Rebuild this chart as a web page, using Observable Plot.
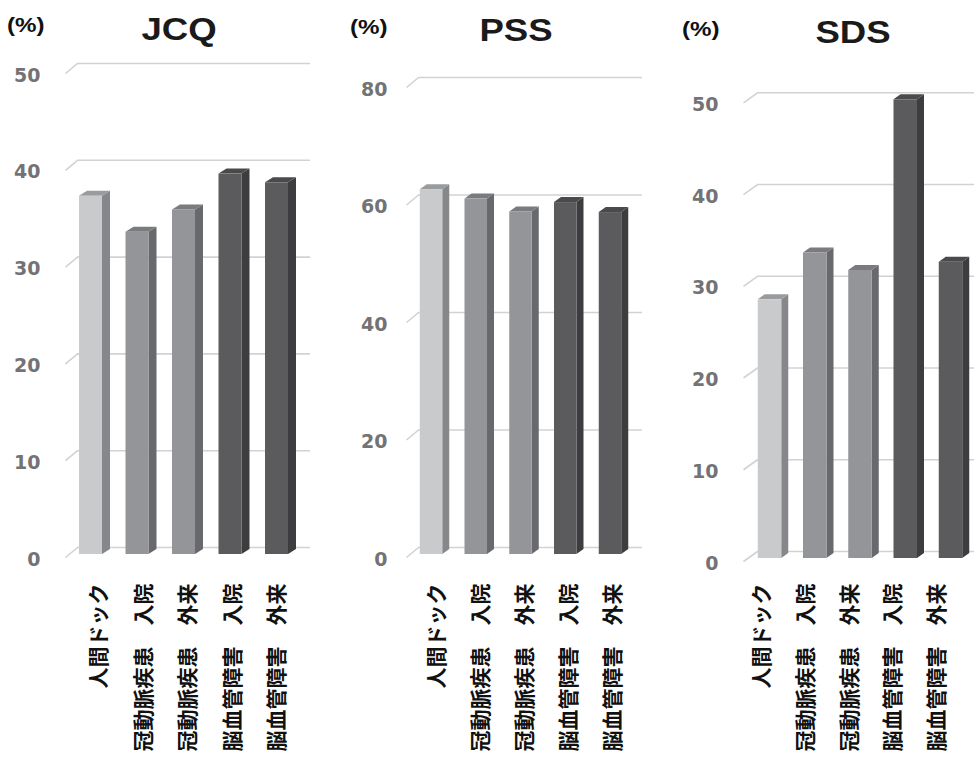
<!DOCTYPE html>
<html><head><meta charset="utf-8">
<script src="https://cdn.jsdelivr.net/npm/d3@7"></script>
<script src="https://cdn.jsdelivr.net/npm/@observablehq/plot@0.6"></script>
<style>
body{margin:0;background:#fff;}
#wrap{position:relative;width:974px;height:763px;overflow:hidden;background:#fff;}
.panel{position:absolute;top:0;}
.unit{position:absolute;font-family:"Liberation Sans";font-weight:bold;font-size:21px;line-height:21px;color:#111;white-space:nowrap;transform:scaleX(1.15);transform-origin:left center;}
.title{position:absolute;width:200px;text-align:center;font-family:"Liberation Sans";font-weight:bold;font-size:31px;line-height:31px;color:#1a1a1a;transform:scaleX(1.18);transform-origin:center;}
</style></head><body><div id="wrap"></div>
<script>
// ---- data ----
const categories = ["人間ドック", "冠動脈疾患　入院", "冠動脈疾患　外来", "脳血管障害　入院", "脳血管障害　外来"];
const groups = ["人間ドック", "冠動脈疾患", "冠動脈疾患", "脳血管障害", "脳血管障害"];
const titles = ["JCQ", "PSS", "SDS"];
const jcqValues = [37.0, 33.3, 35.6, 39.3, 38.4];
const pssValues = [62.1, 60.5, 58.3, 59.9, 58.2];
const sdsValues = [28.2, 33.3, 31.4, 50.0, 32.3];
const jcqTicks = [0, 10, 20, 30, 40, 50];
const pssTicks = [0, 20, 40, 60, 80];
const sdsTicks = [0, 10, 20, 30, 40, 50];
const unitLabel = "(%)";

// ---- style ----
const palette = {
  "人間ドック": {front: "#c9cacc", side: "#86878b", top: "#9a9b9e"},
  "冠動脈疾患": {front: "#949598", side: "#68696c", top: "#7a7b7e"},
  "脳血管障害": {front: "#5b5b5e", side: "#3d3d3f", top: "#4a4a4c"}
};
const gridColor = "#d2d2d2";
const tickColor = "#737375";

// ---- layout (page pixels) ----
const layouts = [
  {left: 0, width: 330, zero: 547, topPx: 63, x0: 90.5, pitch: 46.5, frontW: 23, sideW: 8,
   gridStart: 77, gridEnd: 310, slantDx: 12, slantDy: 10, labelRight: 40, catX0: 99, catPitch: 44.5,
   unitX: 7, unitY: 14, titleCx: 179, titleY: 14},
  {left: 330, width: 330, zero: 547, topPx: 77, x0: 431, pitch: 44.75, frontW: 22.5, sideW: 7,
   gridStart: 418, gridEnd: 642, slantDx: 12, slantDy: 10, labelRight: 387, catX0: 437, catPitch: 44,
   unitX: 350, unitY: 16, titleCx: 516, titleY: 15},
  {left: 660, width: 314, zero: 551, topPx: 92.3, x0: 769.5, pitch: 45.25, frontW: 23.5, sideW: 7,
   gridStart: 757, gridEnd: 990, slantDx: 14, slantDy: 10, labelRight: 718, catX0: 762, catPitch: 43.75,
   unitX: 682, unitY: 18, titleCx: 853, titleY: 17}
];
const panelValues = [jcqValues, pssValues, sdsValues];
const panelTicks = [jcqTicks, pssTicks, sdsTicks];

const wrap = document.getElementById("wrap");

layouts.forEach((L, k) => {
  const values = panelValues[k];
  const ticks = panelTicks[k];
  const yMax = d3.max(ticks);
  const ky = (L.zero - L.topPx) / yMax;            // px per value unit
  const xData = px => (px - L.x0) / L.pitch;       // page px -> x data
  const dxD = px => px / L.pitch;
  const dyD = px => px / ky;
  const frontDrop = 7;                              // front plane offset (px)
  const hw = dxD(L.frontW / 2);
  const sdx = dxD(L.sideW), sdy = dyD(5);

  const bars = categories.map((c, i) => ({i, c, g: groups[i], v: values[i]}));
  const sidePts = bars.flatMap(b => [
    {i: b.i, x: b.i + hw, y1: 0, y2: b.v, f: palette[b.g].side},
    {i: b.i, x: b.i + hw + sdx, y1: sdy, y2: b.v + sdy, f: palette[b.g].side}
  ]);
  const topPts = bars.flatMap(b => [
    {i: b.i, y: b.v, x1: b.i - hw, x2: b.i + hw, f: palette[b.g].top},
    {i: b.i, y: b.v + sdy, x1: b.i - hw + sdx, x2: b.i + hw + sdx, f: palette[b.g].top}
  ]);
  const gStart = xData(L.gridStart), gEnd = xData(L.gridEnd), gSlant = xData(L.gridStart - L.slantDx);
  const tickLabelX = xData(L.labelRight);

  const chart = Plot.plot({
    width: L.width,
    height: 763,
    x: {axis: null, domain: [0, 4], range: [L.x0 - L.left, L.x0 - L.left + 4 * L.pitch]},
    y: {axis: null, domain: [0, yMax], range: [L.zero, L.topPx]},
    style: {background: "transparent", overflow: "hidden"},
    marks: [
      Plot.ruleY(ticks, {y: t => t, x1: () => gStart, x2: () => gEnd, stroke: gridColor, strokeWidth: 1.6}),
      Plot.link(ticks, {x1: () => gStart, y1: t => t, x2: () => gSlant, y2: t => t - dyD(L.slantDy),
        stroke: gridColor, strokeWidth: 1.6}),
      Plot.text(ticks, {x: () => tickLabelX, y: t => t - dyD(L.slantDy), text: t => String(t), textAnchor: "end",
        dy: 2, fontSize: 19, fontWeight: "bold", fontFamily: "DejaVu Sans", fill: tickColor}),
      Plot.areaY(sidePts, {x: "x", y1: "y1", y2: "y2", z: "i", fill: "f", dy: frontDrop}),
      Plot.areaX(topPts, {y: "y", x1: "x1", x2: "x2", z: "i", fill: "f", dy: frontDrop}),
      Plot.rect(bars, {x1: d => d.i - hw, x2: d => d.i + hw, y1: () => 0, y2: d => d.v, fill: d => palette[d.g].front, dy: frontDrop}),
      Plot.text(bars, {x: d => xData(L.catX0 + L.catPitch * d.i), y: () => 0, text: "c", rotate: -90, textAnchor: "end",
        dy: 583 - L.zero, fontSize: 21, fontWeight: "bold", fontFamily: "Noto Sans CJK JP", fill: "#111"})
    ]
  });
  chart.classList.add("panel");
  chart.style.left = L.left + "px";
  wrap.appendChild(chart);

  const u = document.createElement("div");
  u.className = "unit";
  u.textContent = unitLabel;
  u.style.left = L.unitX + "px";
  u.style.top = L.unitY + "px";
  wrap.appendChild(u);

  const t = document.createElement("div");
  t.className = "title";
  t.textContent = titles[k];
  t.style.left = (L.titleCx - 100) + "px";
  t.style.top = L.titleY + "px";
  wrap.appendChild(t);
});
</script>
</body></html>
